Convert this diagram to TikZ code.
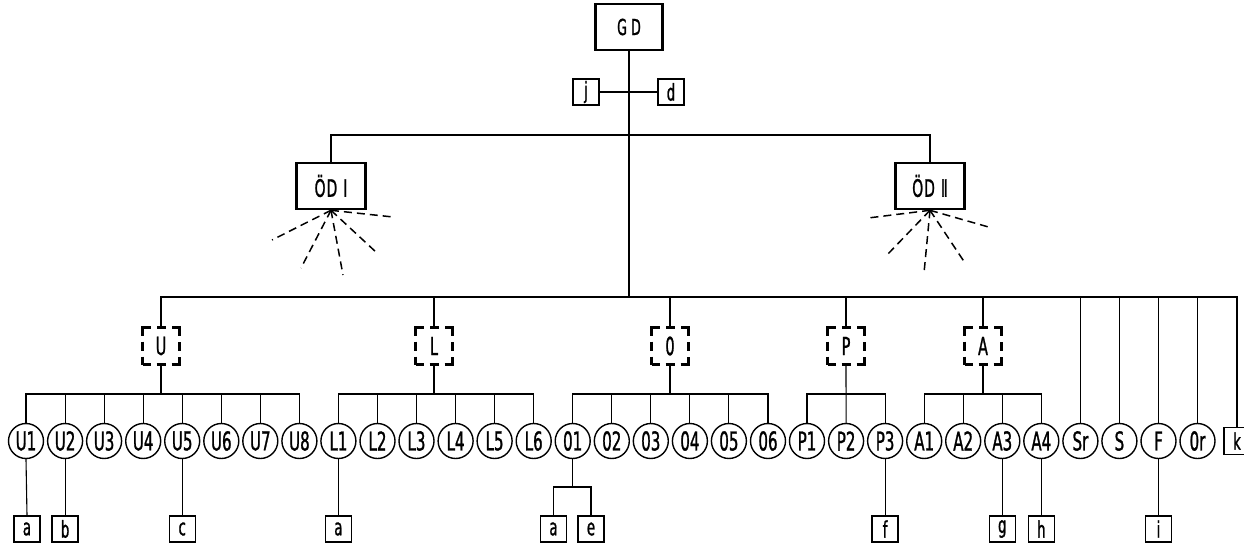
\documentclass[tikz,border=0pt]{standalone}
\usepackage{fontspec}
\setmainfont{DejaVu Sans}[FakeStretch=0.58,FakeBold=1]
\begin{document}
\begin{tikzpicture}[x=1pt,y=-1pt,
  thin line/.style={line width=1.1pt},
  chief/.style={draw,line width=2.6pt,minimum width=67pt,minimum height=46pt,inner sep=0pt,font=\fontsize{22}{22}\selectfont},
  dept/.style={draw,line width=2.8pt,minimum size=37pt,inner sep=0pt,dash pattern=on 16pt off 6pt on 9pt off 6pt,dash phase=8pt,font=\fontsize{25}{25}\selectfont},
  unit/.style={draw,circle,line width=1.4pt,minimum size=35pt,inner sep=0pt,font=\fontsize{26}{26}\selectfont},
  tag/.style={draw,line width=1.4pt,minimum size=26pt,inner sep=0pt,font=\fontsize{23}{23}\selectfont},
  ray/.style={line width=1.5pt,dash pattern=on 8pt off 5pt}]
\useasboundingbox (0,0) rectangle (1244,546);
\fill[white] (0,0) rectangle (1244,546);

% top
\node[chief] (GD) at (629,27) {G\hspace{4pt}D};
\node[tag] (j) at (586,92) {j};
\node[tag] (d) at (671,92) {d};
\node[chief,minimum width=69pt,font=\fontsize{24}{24}\selectfont] (OD1) at (331,186) {Ö\hspace{1pt}D\hspace{6pt}Ⅰ};
\node[chief,minimum width=69pt,font=\fontsize{24}{24}\selectfont] (OD2) at (930,186) {Ö\hspace{1pt}D\hspace{6pt}Ⅱ};
\coordinate (top) at (629,135);
\coordinate (bus) at (629,297);
\coordinate (ub) at (0,394);
\coordinate (ob) at (0,487);

% departments
\node[dept] (U) at (161,346) {U};
\node[dept] (L) at (434,346) {L};
\node[dept] (O) at (670,346) {0};
\node[dept] (P) at (846,346) {P};
\node[dept] (A) at (983,346) {A};

% units
\def\cy{441}
\node[unit] (U1) at (26.0,\cy) {U1};
\node[unit] (U2) at (65.1,\cy) {U2};
\node[unit] (U3) at (104.1,\cy) {U3};
\node[unit] (U4) at (143.2,\cy) {U4};
\node[unit] (U5) at (182.2,\cy) {U5};
\node[unit] (U6) at (221.3,\cy) {U6};
\node[unit] (U7) at (260.3,\cy) {U7};
\node[unit] (U8) at (299.4,\cy) {U8};
\node[unit] (L1) at (338.4,\cy) {L1};
\node[unit] (L2) at (377.5,\cy) {L2};
\node[unit] (L3) at (416.5,\cy) {L3};
\node[unit] (L4) at (455.6,\cy) {L4};
\node[unit] (L5) at (494.6,\cy) {L5};
\node[unit] (L6) at (533.7,\cy) {L6};
\node[unit] (O1) at (572.7,\cy) {01};
\node[unit] (O2) at (611.8,\cy) {02};
\node[unit] (O3) at (650.8,\cy) {03};
\node[unit] (O4) at (689.9,\cy) {04};
\node[unit] (O5) at (728.9,\cy) {05};
\node[unit] (O6) at (768.0,\cy) {06};
\node[unit] (P1) at (807.0,\cy) {P1};
\node[unit] (P2) at (846.1,\cy) {P2};
\node[unit] (P3) at (885.1,\cy) {P3};
\node[unit] (A1) at (924.2,\cy) {A1};
\node[unit] (A2) at (963.2,\cy) {A2};
\node[unit] (A3) at (1002.3,\cy) {A3};
\node[unit] (A4) at (1041.3,\cy) {A4};
\node[unit] (Sr) at (1080.4,\cy) {Sr};
\node[unit] (S) at (1119.4,\cy) {S};
\node[unit] (F) at (1158.5,\cy) {F};
\node[unit] (Or) at (1197.5,\cy) {0r};
\node[tag,minimum height=27pt] (k) at (1237,\cy) {k};

% bottom tags
\def\ty{529}
\node[tag] (ta) at (27,\ty) {a};
\node[tag] (tb) at (65.1,\ty) {b};
\node[tag] (tc) at (182.2,\ty) {c};
\node[tag] (tla) at (338.4,\ty) {a};
\node[tag] (toa) at (553.5,\ty) {a};
\node[tag] (toe) at (591,\ty) {e};
\node[tag] (tf) at (885.1,\ty) {f};
\node[tag] (tg) at (1002.3,\ty) {g};
\node[tag] (th) at (1041.3,\ty) {h};
\node[tag] (ti) at (1158.5,\ty) {i};

% connectors top
\draw[thin line] (GD.south) -- (bus);
\draw[thin line] (j.east) -- (d.west);
\draw[thin line] (OD1.north) |- (top) -| (OD2.north);
\draw[thin line] (U.north) |- (k.north |- bus) -- (k.north);
\foreach \n in {L,O,P,A,Sr,S,F,Or} \draw[thin line] (\n.north) -- (\n.north |- bus);

% rays
\coordinate (r11) at (272,240);
\coordinate (r12) at (301,268);
\coordinate (r13) at (343,275);
\coordinate (r14) at (377,253);
\coordinate (r15) at (393,217);
\coordinate (r21) at (868,218);
\coordinate (r22) at (886,256);
\coordinate (r23) at (924,273);
\coordinate (r24) at (965,263);
\coordinate (r25) at (992,228);
\foreach \i in {1,...,5} {
  \draw[ray] (OD1.south) -- (r1\i);
  \draw[ray] (OD2.south) -- (r2\i);
}

% sub-buses
\draw[thin line] (U1.north) |- (U8.north |- ub) -- (U8.north);
\foreach \n in {U2,U3,U4,U5,U6,U7} \draw[thin line] (\n.north |- ub) -- (\n.north);
\draw[thin line] (U.south) -- (U.south |- ub);

\draw[thin line] (L1.north) |- (L6.north |- ub) -- (L6.north);
\foreach \n in {L2,L3,L4,L5} \draw[thin line] (\n.north |- ub) -- (\n.north);
\draw[thin line] (L.south) -- (L.south |- ub);

\draw[thin line] (O1.north) |- (O6.north |- ub) -- (O6.north);
\foreach \n in {O2,O3,O4,O5} \draw[thin line] (\n.north |- ub) -- (\n.north);
\draw[thin line] (O.south) -- (O.south |- ub);

\draw[thin line] (P1.north) |- (P3.north |- ub) -- (P3.north);
\draw[thin line] (P.south) -- (P2.north);

\draw[thin line] (A1.north) |- (A4.north |- ub) -- (A4.north);
\foreach \n in {A2,A3} \draw[thin line] (\n.north |- ub) -- (\n.north);
\draw[thin line] (A.south) -- (A.south |- ub);

% unit to tags
\draw[thin line] (U1.south) -- (ta.north);
\draw[thin line] (U2.south) -- (tb.north);
\draw[thin line] (U5.south) -- (tc.north);
\draw[thin line] (L1.south) -- (tla.north);
\draw[thin line] (O1.south) -- (O1.south |- ob);
\draw[thin line] (toa.north) |- (toa.north |- ob) -- (toe.north |- ob) -- (toe.north);
\draw[thin line] (P3.south) -- (tf.north);
\draw[thin line] (A3.south) -- (tg.north);
\draw[thin line] (A4.south) -- (th.north);
\draw[thin line] (F.south) -- (ti.north);
\end{tikzpicture}
\end{document}
